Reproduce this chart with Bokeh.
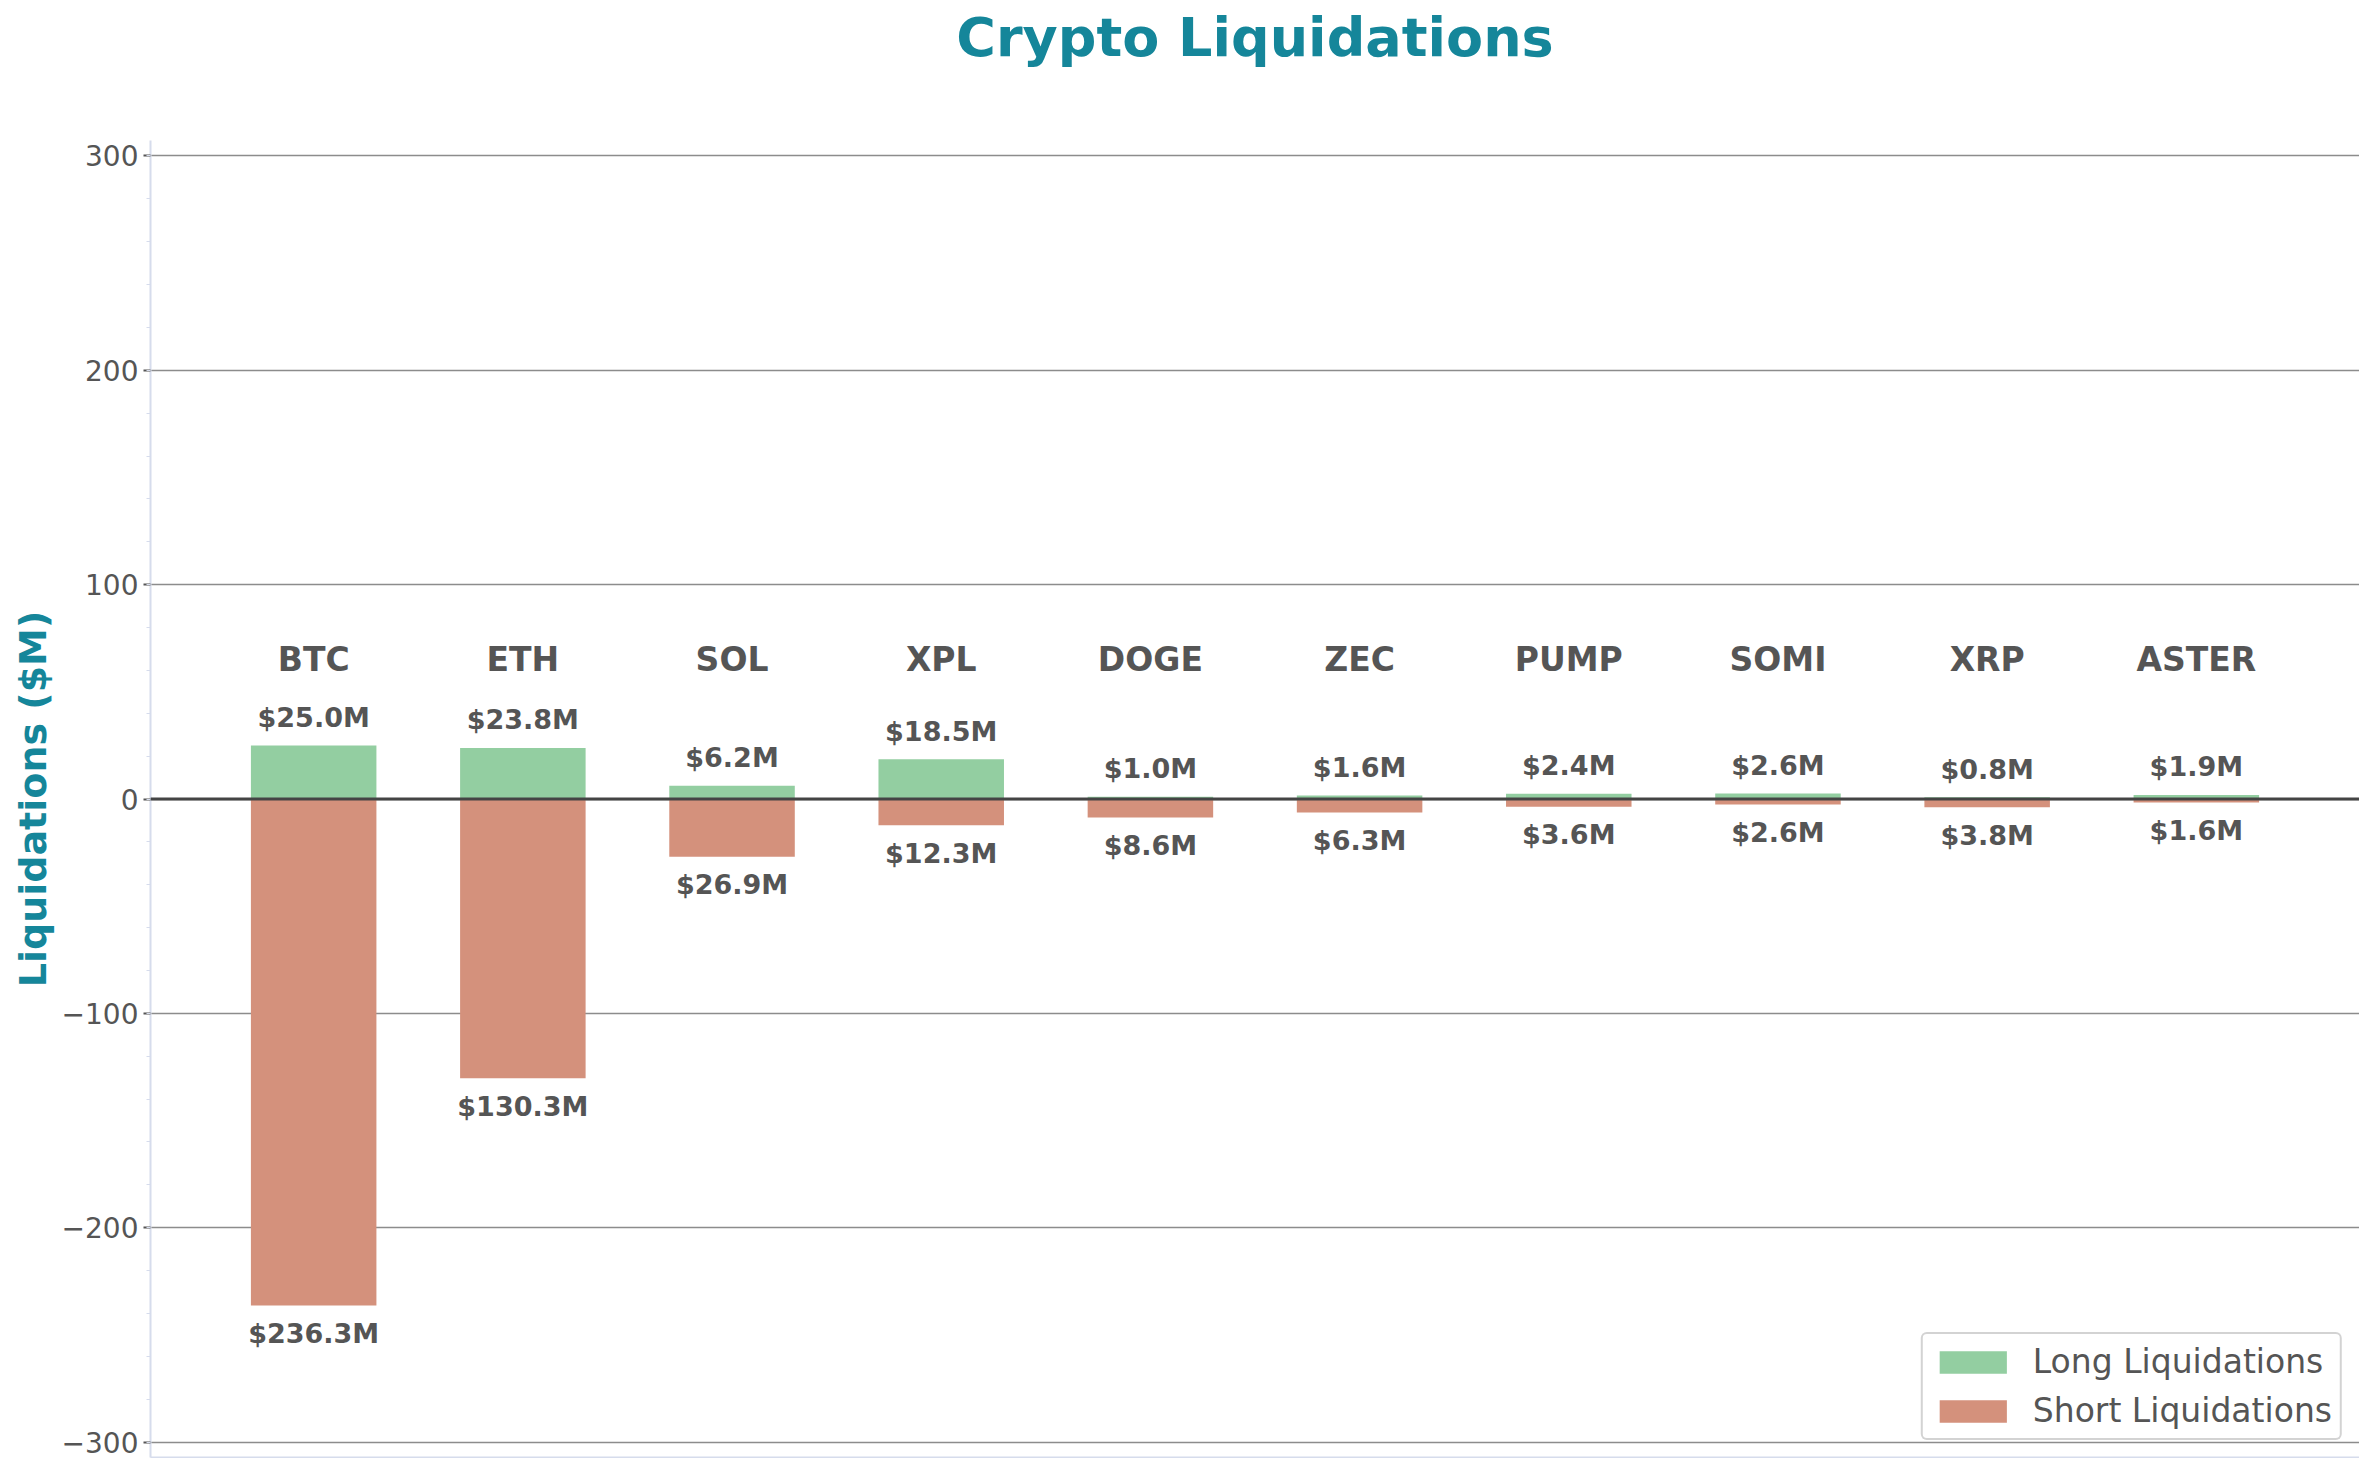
"""
crypto long / short liquidations as diverging bars
"""
from bokeh.plotting import figure
from bokeh.models import (ColumnDataSource, Range1d, SingleIntervalTicker, FixedTicker,
                          Span, Title, Legend, LegendItem, CustomJSTickFormatter)
from bokeh.core.properties import value
from bokeh.embed import file_html
from bokeh.resources import INLINE

# data ($M)
coins = ['BTC', 'ETH', 'SOL', 'XPL', 'DOGE', 'ZEC', 'PUMP', 'SOMI', 'XRP', 'ASTER']
long_liq = [25.0, 23.8, 6.2, 18.5, 1.0, 1.6, 2.4, 2.6, 0.8, 1.9]
short_liq = [236.3, 130.3, 26.9, 12.3, 8.6, 6.3, 3.6, 2.6, 3.8, 1.6]

green = '#93cea1'
salmon = '#d4917c'
teal = '#15869a'
grey_text = '#555555'
spine = '#d6dcec'
font = value('DejaVu Sans')

idx = list(range(len(coins)))
pad = 0.025 * max(short_liq)
ylim = 1.3 * max(short_liq)

src = ColumnDataSource(dict(
    x=idx,
    coin=coins,
    long=long_liq,
    short=[-v for v in short_liq],
    long_y=[v + pad for v in long_liq],
    short_y=[-v - pad for v in short_liq],
    long_txt=['${:.1f}M'.format(v) for v in long_liq],
    short_txt=['${:.1f}M'.format(v) for v in short_liq],
    coin_y=[max(long_liq) + 40] * len(coins),
))

p = figure(width=2359, height=1458,
           x_range=Range1d(-0.78, 9.78), y_range=Range1d(-ylim, ylim),
           output_backend='svg', toolbar_location=None,
           min_border_left=150, min_border_right=0, min_border_top=0, min_border_bottom=1)

p.outline_line_color = None
p.background_fill_color = 'white'
p.border_fill_color = 'white'

# title: a blank spacer panel next to the frame, the real title above it
spacer = Title(text=' ', text_font_size='10px', standoff=56)
p.add_layout(spacer, 'above')
main_title = Title(text='Crypto Liquidations', align='center', standoff=6,
                   text_font='DejaVu Sans', text_font_size='54px',
                   text_font_style='bold', text_color=teal)
p.add_layout(main_title, 'above')

# y axis
p.yaxis.ticker = SingleIntervalTicker(interval=100, num_minor_ticks=5)
p.yaxis.formatter = CustomJSTickFormatter(
    code="return tick < 0 ? '\u2212' + Math.abs(tick) : String(tick);")
p.yaxis.axis_label = 'Liquidations ($M)'
p.yaxis.axis_label_text_font = 'DejaVu Sans'
p.yaxis.axis_label_text_font_size = '38px'
p.yaxis.axis_label_text_font_style = 'bold'
p.yaxis.axis_label_text_color = teal
p.yaxis.axis_label_standoff = 4
p.yaxis.major_label_text_font = 'DejaVu Sans'
p.yaxis.major_label_text_font_size = '28px'
p.yaxis.major_label_text_color = grey_text
p.yaxis.major_label_standoff = 5
p.yaxis.axis_line_color = spine
p.yaxis.axis_line_width = 2
p.yaxis.major_tick_line_color = grey_text
p.yaxis.major_tick_line_width = 2
p.yaxis.major_tick_in = 0
p.yaxis.major_tick_out = 7
p.yaxis.minor_tick_line_color = spine
p.yaxis.minor_tick_in = 0
p.yaxis.minor_tick_out = 4

# x axis only as bottom spine
p.xaxis.ticker = FixedTicker(ticks=[])
p.xaxis.axis_line_color = spine
p.xaxis.axis_line_width = 2
p.xaxis.major_tick_line_color = None
p.xaxis.minor_tick_line_color = None
p.xaxis.major_label_text_font_size = '0px'

p.xgrid.visible = False
p.ygrid.grid_line_color = '#8c8c8c'
p.ygrid.grid_line_width = 1.5

# bars
r_long = p.vbar(x='x', top='long', bottom=0, width=0.6, source=src,
                fill_color=green, line_color=None)
r_short = p.vbar(x='x', top=0, bottom='short', width=0.6, source=src,
                 fill_color=salmon, line_color=None)

p.add_layout(Span(location=0, dimension='width', line_color='#444444', line_width=3))

# value labels
p.text(x='x', y='long_y', text='long_txt', source=src, text_align='center',
       text_baseline='bottom', text_font=font, text_font_size='27px',
       text_font_style='bold', text_color=grey_text)
p.text(x='x', y='short_y', text='short_txt', source=src, text_align='center',
       text_baseline='top', text_font=font, text_font_size='27px',
       text_font_style='bold', text_color=grey_text)
p.text(x='x', y='coin_y', text='coin', source=src, text_align='center',
       text_baseline='middle', text_font=font, text_font_size='33px',
       text_font_style='bold', text_color=grey_text)

legend = Legend(items=[LegendItem(label='Long Liquidations', renderers=[r_long]),
                       LegendItem(label='Short Liquidations', renderers=[r_short])],
                location='bottom_right')
legend.label_text_font = 'DejaVu Sans'
legend.label_text_font_size = '33px'
legend.label_text_color = grey_text
legend.glyph_width = 84
legend.glyph_height = 28
legend.label_standoff = 18
legend.spacing = 10
legend.padding = 8
legend.margin = 17
legend.border_line_color = '#a8a8a8'
legend.border_line_width = 2
legend.border_radius = 6
p.add_layout(legend)

open('out.html', 'w').write(file_html(p, INLINE))
